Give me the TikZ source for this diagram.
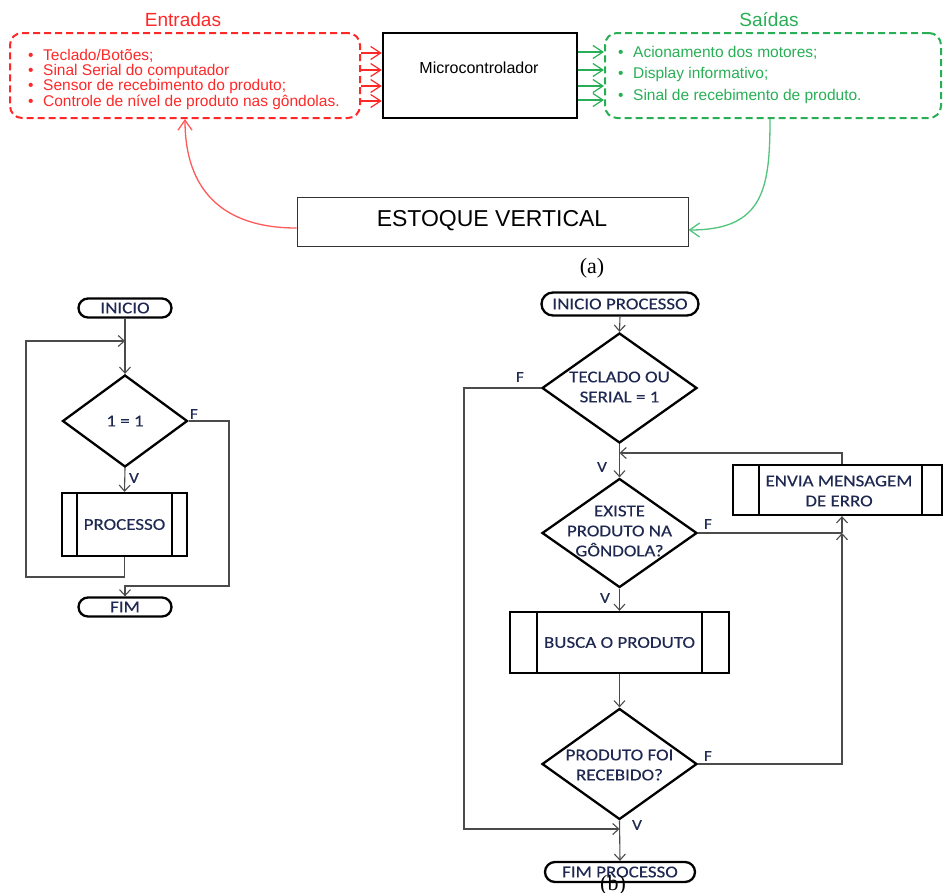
\documentclass[tikz,border=0pt]{standalone}
\usepackage{fontspec}
\setmainfont{Liberation Sans}
\newfontfamily\flowfont[FakeStretch=1.15,FakeBold=0.3]{Carlito}
\newfontfamily\timesfont{Liberation Serif}
\usetikzlibrary{shapes.geometric,shapes.misc,arrows.meta}
\definecolor{myred}{RGB}{255,40,40}
\definecolor{redcurve}{RGB}{255,90,90}
\definecolor{mygreen}{RGB}{40,175,85}
\definecolor{greencurve}{RGB}{80,195,125}
\definecolor{navy}{RGB}{30,40,80}
\definecolor{connc}{RGB}{75,75,75}
\begin{document}
\begin{tikzpicture}[x=1pt,y=-1pt,
  >={Straight Barb[length=6pt,width=11pt]},
  conn/.style={draw=connc, line width=1.1pt},
  shp/.style={draw=black, line width=2.3pt},
  fontflow/.style={font=\flowfont\fontsize{16.5}{20}\selectfont, text=navy},
  term/.style={shp, rounded rectangle, inner sep=0pt, fontflow},
  dia/.style={shp, diamond, inner sep=0pt},
  pbox/.style={shp, rectangle, inner sep=0pt, fontflow, align=center},
  ftext/.style={fontflow, align=center, inner sep=0pt},
  lab/.style={font=\flowfont\fontsize{15}{15}\selectfont, text=navy, inner sep=0pt},
  dbox/.style={dash pattern=on 7pt off 4pt, line width=2pt, rounded corners=12pt, inner sep=0pt},
  topar/.style={line width=1.2pt, -{Straight Barb[length=10pt,width=13pt]}},
  btext/.style={font=\fontsize{15.5}{16}\selectfont, anchor=base west, inner sep=0pt},
  ttl/.style={font=\fontsize{19}{20}\selectfont, anchor=base, inner sep=0pt},
  captext/.style={font=\timesfont\fontsize{22}{22}\selectfont, anchor=base, inner sep=0pt},
]
\useasboundingbox (0,0) rectangle (944,892);

% ---------------- (a) ----------------
\node[ttl, text=myred] (entt) at (183,26) {Entradas};
\node[ttl, text=mygreen] (sait) at (769,26) {Saídas};

\node[dbox, draw=myred, minimum width=350pt, minimum height=85pt] (ebox) at (185,75.5) {};
\node[dbox, draw=mygreen, minimum width=336pt, minimum height=85pt] (gbox) at (773,75.5) {};
\node[draw=black, line width=2.5pt, minimum width=194pt, minimum height=85pt, inner sep=0pt] (mc) at (480,75.5) {};
\node[font=\fontsize{16}{17}\selectfont, anchor=base, inner sep=0pt] (mct) at (479,73) {Microcontrolador};

\node[btext, text=myred] (e1) at (28,60) {\makebox[15pt][l]{•}Teclado/Botões;};
\node[btext, text=myred] (e2) at (28,75) {\makebox[15pt][l]{•}Sinal Serial do computador};
\node[btext, text=myred] (e3) at (28,90.5) {\makebox[15pt][l]{•}Sensor de recebimento do produto;};
\node[btext, text=myred] (e4) at (28,106) {\makebox[15pt][l]{•}Controle de nível de produto nas gôndolas.};

\node[btext, text=mygreen] (g1) at (618,57) {\makebox[15pt][l]{•}Acionamento dos motores;};
\node[btext, text=mygreen] (g2) at (618,78) {\makebox[15pt][l]{•}Display informativo;};
\node[btext, text=mygreen] (g3) at (618,100) {\makebox[15pt][l]{•}Sinal de recebimento de produto.};

\foreach \s in {22.5,5.5,-10.5,-25.5}{
  \draw[topar, myred] ([yshift=\s pt]ebox.east) -- ([yshift=\s pt]mc.west);
}
\foreach \s in {23.5,5.5,-10.5,-24.5}{
  \draw[topar, mygreen] ([yshift=\s pt]mc.east) -- ([yshift=\s pt]gbox.west);
}

\node[draw=black!80, line width=1pt, minimum width=391pt, minimum height=49pt, inner sep=0pt] (est) at (492.5,221.5) {};
\node[font=\fontsize{23}{24}\selectfont, anchor=base, inner sep=0pt] (estt) at (492,226) {ESTOQUE VERTICAL};

\draw[redcurve, line width=1.3pt, -{Straight Barb[length=10pt,width=14pt]}]
  ([yshift=-6.5pt]est.west) .. controls +(-75,0) and +(0,70) .. (ebox.south);
\draw[greencurve, line width=1.3pt, -{Straight Barb[length=10pt,width=14pt]}]
  ([xshift=-3pt]gbox.south) .. controls +(0,70) and +(75,0) .. ([yshift=-8.5pt]est.east);

\node[captext] (capa) at (592,273) {(a)};

% ---------------- left flowchart ----------------
\node[term, minimum width=93pt, minimum height=19pt] (ini1) at (125,308) {INICIO};
\node[dia, minimum width=125pt, minimum height=92pt] (d0) at (125,421) {};
\node[ftext] (t0) at (d0) {1 = 1};
\node[pbox, minimum width=125pt, minimum height=63pt] (proc) at (124.5,524.5) {PROCESSO};
\draw[shp] ([xshift=16pt]proc.north west) -- ([xshift=16pt]proc.south west);
\draw[shp] ([xshift=-16pt]proc.north east) -- ([xshift=-16pt]proc.south east);
\node[term, minimum width=93pt, minimum height=19pt] (fim1) at (125,607) {FIM};

\coordinate (j1) at (125,341);
\coordinate (lb) at (26,577);
\coordinate (rF) at (229,586);
\draw[conn,->] (ini1.south) -- (d0.north);
\draw[conn,->] (proc.south) |- (lb) |- (j1);
\draw[conn,->] (d0.south) -- (proc.north);
\draw[conn,->] (d0.east) -| (rF) -| (fim1.north);
\node[lab] (lf0) at (194,414) {F};
\node[lab] (lv0) at (134,478) {V};

% ---------------- right flowchart ----------------
\node[term, minimum width=157pt, minimum height=23pt] (ini2) at (620,304) {INICIO PROCESSO};
\node[dia, minimum width=155pt, minimum height=110pt] (d1) at (619.5,388) {};
\node[ftext] (t1) at (619.5,387) {TECLADO OU\\SERIAL = 1};
\node[dia, minimum width=155pt, minimum height=109pt] (d2) at (619.5,533) {};
\node[ftext] (t2) at (619.5,531) {EXISTE\\PRODUTO NA\\GÔNDOLA?};
\node[pbox, minimum width=219pt, minimum height=61pt] (busca) at (619.5,642.5) {BUSCA O PRODUTO};
\draw[shp] ([xshift=28pt]busca.north west) -- ([xshift=28pt]busca.south west);
\draw[shp] ([xshift=-28pt]busca.north east) -- ([xshift=-28pt]busca.south east);
\node[dia, minimum width=155pt, minimum height=111pt] (d3) at (619.5,764) {};
\node[ftext] (t3) at (619.5,765) {PRODUTO FOI\\RECEBIDO?};
\node[term, minimum width=150pt, minimum height=20pt] (fim2) at (620,872) {FIM PROCESSO};
\node[pbox, minimum width=209pt, minimum height=50pt] (envia) at (837.5,490) {};
\node[ftext] (tenv) at (839,491) {ENVIA MENSAGEM\\DE ERRO};
\draw[shp] ([xshift=27pt]envia.north west) -- ([xshift=27pt]envia.south west);
\draw[shp] ([xshift=-21pt]envia.north east) -- ([xshift=-21pt]envia.south east);

\coordinate (m1) at (619.5,453);
\coordinate (m2) at (619.5,829);
\coordinate (lb2) at (464,829);
\coordinate (c2) at (842,533);
\draw[conn,->] (ini2.south) -- (d1.north);
\draw[conn,->] (d1.south) -- (d2.north);
\draw[conn,->] ([xshift=4.5pt]envia.north) |- (m1);
\draw[conn,->] (d1.west) -| (lb2) -- (m2);
\draw[conn,->] (d2.south) -- (busca.north);
\draw[conn,->] (busca.south) -- (d3.north);
\draw[conn,->] (d3.south) -- (fim2.north);
\draw[conn] (d2.east) -- (c2);
\draw[conn,->] (d3.east) -| (c2);
\draw[conn,->] (c2) -- (c2 |- envia.south);

\node[lab] (lf1) at (520,377) {F};
\node[lab] (lv1) at (602,467) {V};
\node[lab] (lf2) at (708,524) {F};
\node[lab] (lv2) at (605,598) {V};
\node[lab] (lf3) at (708,756) {F};
\node[lab] (lv3) at (637,825) {V};

\node[captext] (capb) at (613,890) {(b)};
\end{tikzpicture}
\end{document}
